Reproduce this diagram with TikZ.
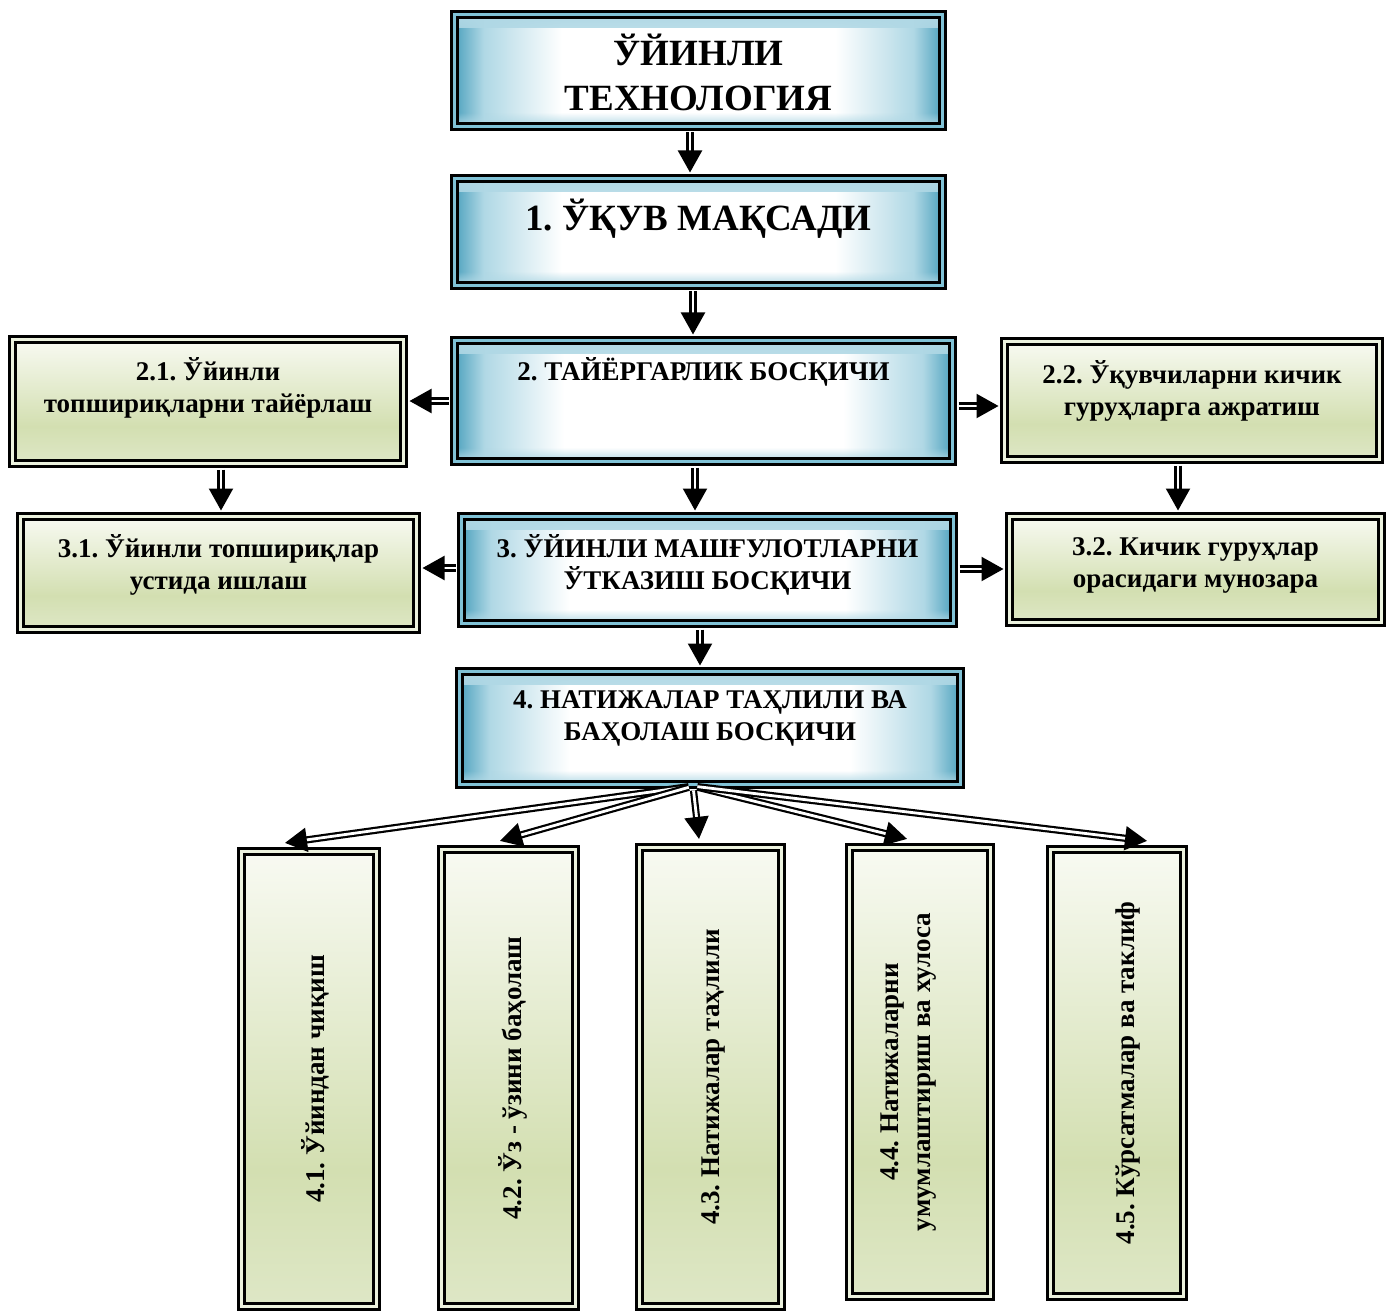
\documentclass[tikz,border=0pt]{standalone}
\usepackage{fontspec}
\setmainfont{Liberation Serif}
\usetikzlibrary{arrows.meta,fadings}
\frenchspacing

\definecolor{edgeblue}{RGB}{78,162,190}
\definecolor{midblue}{RGB}{176,216,229}
\definecolor{rimblue}{RGB}{128,194,214}
\definecolor{greentop}{RGB}{248,250,242}
\definecolor{greenmid}{RGB}{211,223,177}
\definecolor{greenlow}{RGB}{222,231,198}
\definecolor{greenrim}{RGB}{236,242,222}

\pgfdeclarehorizontalshading{bluefade}{100bp}{color(0bp)=(edgeblue); color(25bp)=(edgeblue);
  color(28bp)=(midblue); color(36bp)=(white); color(64bp)=(white); color(72bp)=(midblue);
  color(75bp)=(edgeblue); color(100bp)=(edgeblue)}
\pgfdeclareverticalshading{greenfade}{100bp}{color(0bp)=(greenlow); color(25bp)=(greenlow);
  color(40bp)=(greenmid); color(75bp)=(greentop); color(100bp)=(greentop)}

\tikzset{
  bluebox/.style={draw=black, line width=1.6pt, double=rimblue, double distance=1.2pt,
    shading=bluefade, inner sep=0pt,
    path picture={
      \fill[midblue, path fading=south] (path picture bounding box.north west)
        rectangle ([yshift=-7pt]path picture bounding box.north east);
      \fill[midblue, path fading=north] (path picture bounding box.south west)
        rectangle ([yshift=7pt]path picture bounding box.south east);
    }},
  greenbox/.style={draw=black, line width=1.6pt, double=greenrim, double distance=1.2pt,
    shading=greenfade, inner sep=0pt},
  boxtext/.style={font=\bfseries\fontsize{13.5}{16}\selectfont, align=center},
  bigtext/.style={font=\bfseries\fontsize{18.5}{22.5}\selectfont, align=center},
  dar/.style={double, line width=1.1pt, double distance=1.4pt,
    -{Triangle[length=11pt, width=12pt]}, shorten >=2.2pt, shorten <=2.2pt}
}

\begin{document}
\begin{tikzpicture}[x=0.5pt, y=-0.5pt]
  \useasboundingbox (0,0) rectangle (1390,1310);

  % main column
  \node[bluebox, minimum width=244pt, minimum height=56pt,
    label={[bigtext, yshift=-1pt]center:ЎЙИНЛИ\\ТЕХНОЛОГИЯ}] (top) at (698.5,70.5) {};
  \node[bluebox, minimum width=244pt, minimum height=53.5pt,
    label={[bigtext, yshift=6.5pt]center:1. ЎҚУВ МАҚСАДИ}] (b1) at (698.5,232) {};
  \node[bluebox, minimum width=249pt, minimum height=60.5pt,
    label={[boxtext, yshift=14.5pt]center:2. ТАЙЁРГАРЛИК БОСҚИЧИ}] (b2) at (703.5,401) {};
  \node[bluebox, minimum width=246pt, minimum height=53.5pt,
    label={[boxtext, yshift=2.5pt]center:3. ЎЙИНЛИ МАШҒУЛОТЛАРНИ\\ЎТКАЗИШ БОСҚИЧИ}] (b3) at (707.5,570) {};
  \node[bluebox, minimum width=250.5pt, minimum height=56.5pt,
    label={[boxtext, yshift=4.75pt]center:4. НАТИЖАЛАР ТАҲЛИЛИ ВА\\БАҲОЛАШ БОСҚИЧИ}] (b4) at (710,728) {};

  % side boxes
  \node[greenbox, minimum width=195.5pt, minimum height=62pt,
    label={[boxtext, yshift=6.75pt]center:2.1. Ўйинли\\топшириқларни тайёрлаш}] (b21) at (208,401.5) {};
  \node[greenbox, minimum width=187.5pt, minimum height=59pt,
    label={[boxtext, yshift=4.75pt]center:2.2. Ўқувчиларни кичик\\гуруҳларга ажратиш}] (b22) at (1192,400.5) {};
  \node[greenbox, minimum width=198pt, minimum height=56.5pt,
    label={[boxtext, yshift=4pt]center:3.1. Ўйинли топшириқлар\\устида ишлаш}] (b31) at (218.5,573) {};
  \node[greenbox, minimum width=186pt, minimum height=53pt,
    label={[boxtext, yshift=2.25pt]center:3.2. Кичик гуруҳлар\\орасидаги мунозара}] (b32) at (1195.5,569.5) {};

  % bottom row
  \node[greenbox, minimum width=67.5pt, minimum height=227.5pt,
    label={[boxtext, xshift=3pt, rotate=90]center:4.1. Ўйиндан чиқиш}] (b41) at (309,1079) {};
  \node[greenbox, minimum width=67pt, minimum height=228.5pt,
    label={[boxtext, xshift=2.25pt, rotate=90]center:4.2. Ўз - ўзини баҳолаш}] (b42) at (508.5,1078) {};
  \node[greenbox, minimum width=71pt, minimum height=229.5pt,
    label={[boxtext, xshift=1.25pt, rotate=90]center:4.3. Натижалар таҳлили}] (b43) at (710.5,1077) {};
  \node[greenbox, minimum width=70.5pt, minimum height=224.5pt,
    label={[boxtext, xshift=-5.5pt, rotate=90]center:4.4. Натижаларни\\умумлаштириш ва хулоса}] (b44) at (920,1072) {};
  \node[greenbox, minimum width=66.5pt, minimum height=223.5pt,
    label={[boxtext, xshift=5.5pt, rotate=90]center:4.5. Кўрсатмалар ва таклиф}] (b45) at (1117,1073) {};

  % arrows
  \draw[dar] (top.south -| 690,0) -- (b1.north -| 690,0);
  \draw[dar] (b1.south -| 693,0) -- (b2.north -| 693,0);
  \draw[dar] (b2.south -| 695,0) -- (b3.north -| 695,0);
  \draw[dar] (b3.south -| 700,0) -- (b4.north -| 700,0);
  \draw[dar] (b2.west |- 0,401) -- (b21.east |- 0,401);
  \draw[dar] (b2.east |- 0,406) -- (b22.west |- 0,406);
  \draw[dar] (b21.south -| 221,0) -- (b31.north -| 221,0);
  \draw[dar] (b22.south -| 1178,0) -- (b32.north -| 1178,0);
  \draw[dar] (b3.west |- 0,568) -- (b31.east |- 0,568);
  \draw[dar] (b3.east |- 0,569) -- (b32.west |- 0,569);

  \coordinate (fan) at (b4.south -| 693,0);
  \foreach \dest/\tip in {b41/285, b42/500, b43/699, b44/907, b45/1147}
    \draw[dar, shorten >=0pt] (fan) -- ([yshift=3.5pt]\dest.north -| \tip,0);
\end{tikzpicture}
\end{document}
